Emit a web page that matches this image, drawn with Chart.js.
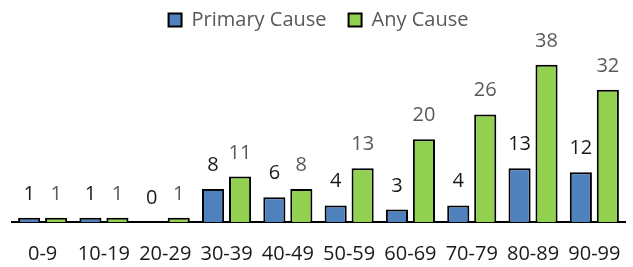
<!DOCTYPE html>
<html>
<head>
<meta charset="utf-8">
<script src="https://cdn.jsdelivr.net/npm/chart.js@4"></script>
<style>
  html, body { margin: 0; padding: 0; background: #fff; }
  #chart { display: block; }
</style>
</head>
<body>
<canvas id="chart" width="633" height="267"></canvas>
<script>
  const AGE_GROUPS = ['0-9', '10-19', '20-29', '30-39', '40-49', '50-59', '60-69', '70-79', '80-89', '90-99'];
  const PRIMARY_CAUSE = [1, 1, 0, 8, 6, 4, 3, 4, 13, 12];
  const ANY_CAUSE = [1, 1, 1, 11, 8, 13, 20, 26, 38, 32];

  const FONT = "'Open Sans', sans-serif";
  const LABEL_COLORS = ['#1a1a1a', '#595959'];

  // numbers above each bar
  const valueLabels = {
    id: 'valueLabels',
    afterDatasetsDraw(chart) {
      const ctx = chart.ctx;
      chart.data.datasets.forEach((ds, i) => {
        const meta = chart.getDatasetMeta(i);
        ctx.save();
        ctx.font = '20px ' + FONT;
        ctx.fillStyle = LABEL_COLORS[i];
        ctx.textAlign = 'center';
        ctx.textBaseline = 'alphabetic';
        meta.data.forEach((bar, j) => {
          ctx.fillText(String(ds.data[j]), bar.x, bar.y - 18);
        });
        ctx.restore();
      });
    },
  };

  new Chart(document.getElementById('chart'), {
    type: 'bar',
    data: {
      labels: AGE_GROUPS,
      datasets: [
        {
          label: 'Primary Cause',
          data: PRIMARY_CAUSE,
          backgroundColor: '#4F81BD',
          borderColor: '#000',
          borderWidth: 2,
          borderSkipped: 'bottom',
          categoryPercentage: 0.88,
          barPercentage: 0.82,
        },
        {
          label: 'Any Cause',
          data: ANY_CAUSE,
          backgroundColor: '#92D050',
          borderColor: '#000',
          borderWidth: 2,
          borderSkipped: 'bottom',
          categoryPercentage: 0.88,
          barPercentage: 0.82,
        },
      ],
    },
    options: {
      responsive: false,
      animation: false,
      layout: { padding: { left: 12, right: 8, top: -12, bottom: -19 } },
      plugins: {
        tooltip: { enabled: false },
        legend: {
          position: 'top',
          labels: {
            boxWidth: 13,
            boxHeight: 13,
            padding: 22,
            color: '#595959',
            font: { family: FONT, size: 20 },
          },
        },
      },
      scales: {
        x: {
          grid: { display: false, drawTicks: false },
          border: { display: true, color: '#000', width: 2 },
          ticks: {
            color: '#1a1a1a',
            padding: 20,
            font: { family: FONT, size: 20 },
            maxRotation: 0,
            autoSkip: false,
          },
          afterFit(scale) {
            // labels fit inside their slots, no extra side room needed
            scale.paddingLeft = 0;
            scale.paddingRight = 0;
          },
        },
        y: {
          display: false,
          beginAtZero: true,
          max: 44,
        },
      },
    },
    plugins: [valueLabels],
  });
</script>
</body>
</html>
